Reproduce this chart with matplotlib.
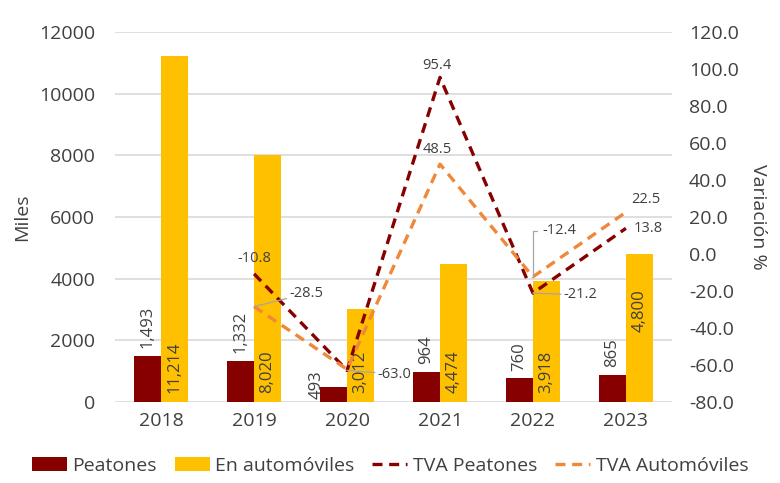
import numpy as np
import matplotlib.pyplot as plt

# data
years = ['2018', '2019', '2020', '2021', '2022', '2023']
peatones = [1493, 1332, 493, 964, 760, 865]
automoviles = [11214, 8020, 3012, 4474, 3918, 4800]
tva_peatones = [np.nan, -10.8, -63.0, 95.4, -21.2, 13.8]
tva_autos = [np.nan, -28.5, -62.4, 48.5, -12.4, 22.5]

c_peat = '#870000'
c_auto = '#FFC000'
c_tva_auto = '#F0883A'
c_text = '#404040'
c_grid = '#D9D9D9'

plt.rcParams['font.family'] = ['Open Sans', 'DejaVu Sans']

fig = plt.figure(figsize=(7.8, 4.83), dpi=100)
ax = fig.add_axes([0.147, 0.168, 0.715, 0.766])
ax2 = ax.twinx()

x = np.arange(len(years))
w = 0.29

b1 = ax.bar(x - w / 2, peatones, w, color=c_peat, label='Peatones', zorder=2)
b2 = ax.bar(x + w / 2, automoviles, w, color=c_auto, label='En automóviles', zorder=2)

ax.set_ylim(0, 12000)
ax.set_yticks(range(0, 12001, 2000))
ax.set_xlim(-0.5, len(years) - 0.5)
ax.set_xticks(x)
ax.set_xticklabels(years)
ax.grid(axis='y', color=c_grid, linewidth=1.2, zorder=0)
ax.set_axisbelow(True)
ax.set_ylabel('Miles', fontsize=14, color=c_text, labelpad=6)

ax2.set_ylim(-80, 120)
ax2.set_yticks(range(-80, 121, 20))
ax2.set_yticklabels(['%.1f' % v for v in range(-80, 121, 20)])
ax2.set_ylabel('Variación %', fontsize=14, color=c_text, rotation=270, labelpad=20)

for a in (ax, ax2):
    for s in a.spines.values():
        s.set_visible(False)
    a.tick_params(length=0, labelsize=14, labelcolor=c_text)
ax.tick_params(axis='x', pad=7)
ax.tick_params(axis='y', pad=14)
ax2.tick_params(axis='y', pad=12)

# bar labels
for i, v in enumerate(peatones):
    if i == 2:
        ax.text(x[i] - w - 0.04, 100, f'{v:,}', rotation=90, ha='center', va='bottom',
                fontsize=12, color=c_text)
    else:
        ax.text(x[i] - w / 2, v + 250, f'{v:,}', rotation=90, ha='center', va='bottom',
                fontsize=12, color=c_text)
for i, v in enumerate(automoviles):
    y0 = 2250 if i == 5 else 300
    ax.text(x[i] + w / 2, y0, f'{v:,}', rotation=90, ha='center', va='bottom',
            fontsize=12, color=c_text)

# variation lines
l1, = ax2.plot(x, tva_peatones, color=c_peat, linestyle=(0, (3, 2)), linewidth=2.4,
               label='TVA Peatones', zorder=3)
l2, = ax2.plot(x, tva_autos, color=c_tva_auto, linestyle=(0, (3, 2)), linewidth=2.4,
               label='TVA Automóviles', zorder=3)

lab = dict(fontsize=10.5, color=c_text)
lead = dict(arrowstyle='-', color='#A6A6A6', lw=0.9, shrinkA=0, shrinkB=0)
ax2.text(x[1], tva_peatones[1] + 4, '%.1f' % tva_peatones[1], ha='center', va='bottom', **lab)
ax2.annotate('%.1f' % tva_autos[1], xy=(x[1], tva_autos[1]), xytext=(x[1] + 0.38, tva_autos[1] + 7),
             ha='left', va='center', arrowprops=lead, **lab)
ax2.annotate('%.1f' % tva_peatones[2], xy=(x[2], tva_peatones[2]), xytext=(x[2] + 0.33, tva_peatones[2] - 2),
             ha='left', va='center', arrowprops=lead, **lab)
ax2.text(x[3] - 0.03, tva_peatones[3] + 2.5, '%.1f' % tva_peatones[3], ha='center', va='bottom', **lab)
ax2.text(x[3] - 0.03, tva_autos[3] + 4, '%.1f' % tva_autos[3], ha='center', va='bottom', **lab)
ax2.annotate('%.1f' % tva_autos[4], xy=(x[4], tva_autos[4]), xytext=(x[4] + 0.1, tva_autos[4] + 25),
             ha='left', va='center',
             arrowprops=dict(arrowstyle='-', color='#A6A6A6', lw=0.9, shrinkA=2, shrinkB=0,
                             connectionstyle='angle,angleA=0,angleB=90,rad=0'), **lab)
ax2.annotate('%.1f' % tva_peatones[4], xy=(x[4], tva_peatones[4]), xytext=(x[4] + 0.33, tva_peatones[4] - 1),
             ha='left', va='center', arrowprops=lead, **lab)
ax2.text(x[5] + 0.06, tva_autos[5] + 3, '%.1f' % tva_autos[5], ha='left', va='bottom', **lab)
ax2.text(x[5] + 0.08, tva_peatones[5], '%.1f' % tva_peatones[5], ha='left', va='center', **lab)

handles = [b1, b2, l1, l2]
fig.legend(handles, [h.get_label() for h in handles], loc='center', bbox_to_anchor=(0.5, 0.035),
           ncol=4, frameon=False, fontsize=14, labelcolor=c_text, handlelength=1.8,
           handletextpad=0.3, columnspacing=0.9)

fig.savefig('out.png', dpi=100)
